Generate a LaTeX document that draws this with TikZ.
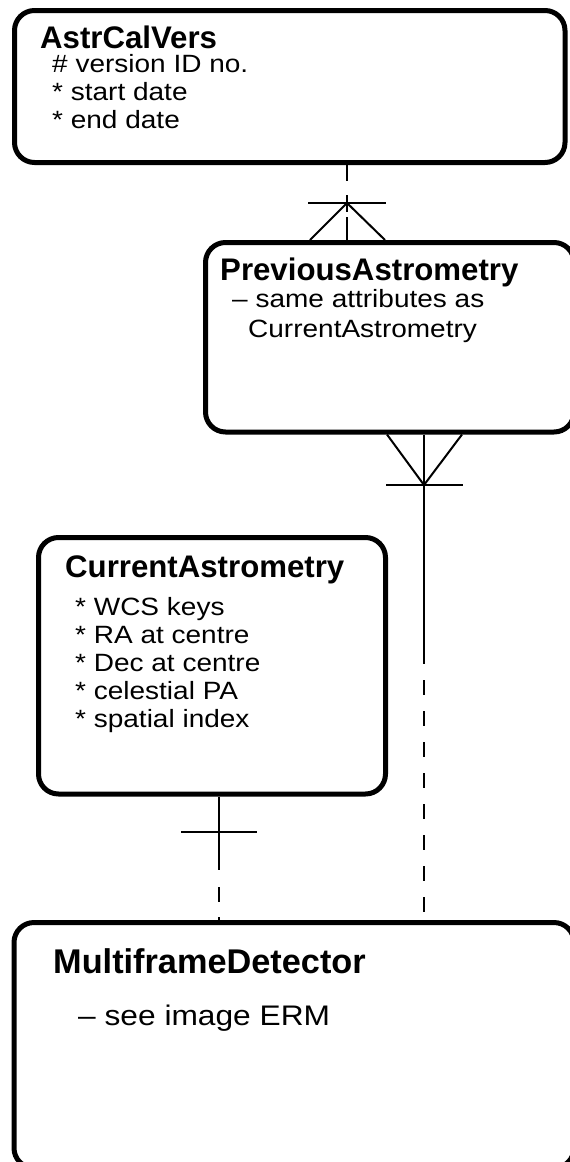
\documentclass[tikz,border=0pt]{standalone}
\usepackage{fontspec}
\setmainfont{Liberation Sans}
\newfontfamily\attrfont[FakeStretch=1.12]{Liberation Sans}
\begin{document}
\begin{tikzpicture}[x=1pt,y=-1pt,
  box/.style={draw, line width=5pt, rounded corners=20pt, inner sep=0pt},
  conn/.style={line width=2pt},
  ttl/.style={anchor=base west, inner sep=0pt, font=\fontsize{31.2}{36}\selectfont\bfseries},
  bigttl/.style={ttl, font=\fontsize{34.3}{40}\selectfont\bfseries},
  attr/.style={anchor=base west, inner sep=0pt, font=\attrfont\fontsize{25}{28}\selectfont},
  bigattr/.style={attr, font=\attrfont\fontsize{28.3}{34}\selectfont}]
\clip (0,0) rectangle (570,1162);
% boxes
\node[box, minimum width=550.5pt, minimum height=152pt] (astr) at (289.75,86.5) {};
\node[box, minimum width=368.5pt, minimum height=189.5pt] (prev) at (389.75,337.25) {};
\node[box, minimum width=347pt, minimum height=256.5pt] (curr) at (212,665.75) {};
\node[box, minimum width=560pt, minimum height=245.5pt] (mf) at (294,1045.25) {};
% texts
\node[ttl] (t1) at (40,48.5) {AstrCalVers};
\node[attr] (a11) at (52,72.5) {\# version ID no.};
\node[attr] (a12) at (52,100) {* start date};
\node[attr] (a13) at (52,128) {* end date};
\node[ttl] (t2) at (220,280.5) {PreviousAstrometry};
\node[attr] (a21) at (232,307) {– same attributes as};
\node[attr] (a22) at (248,337) {CurrentAstrometry};
\node[ttl] (t3) at (65,577) {CurrentAstrometry};
\node[attr] (a31) at (75,615) {* WCS keys};
\node[attr] (a32) at (75,643.5) {* RA at centre};
\node[attr] (a33) at (75,671.5) {* Dec at centre};
\node[attr] (a34) at (75,699.5) {* celestial PA};
\node[attr] (a35) at (75,727.5) {* spatial index};
\node[bigttl] (t4) at (53,973) {MultiframeDetector};
\node[bigattr] (a41) at (78,1025) {– see image ERM};
% x positions of connectors
\coordinate (x1) at (347,0);
\coordinate (x2) at (424,0);
\coordinate (x3) at (219,0);
% connector AstrCalVers -- PreviousAstrometry (one or many)
\draw[conn, dash pattern=on 16pt off 14pt on 17pt off 5pt on 40pt] (astr.south -| x1) -- (prev.north -| x1);
\coordinate (k1) at (347,203);
\draw[conn] (308,203) -- (386,203);
\draw[conn] (prev.north -| 310,0) -- (k1) -- (prev.north -| 385,0);
% connector PreviousAstrometry -- MultiframeDetector
\draw[conn, dash pattern=on 229.5pt off 16pt on 15pt off 16pt on 15pt off 16pt on 15pt off 16pt on 15pt off 16pt on 15pt off 16pt on 15pt off 16pt on 15pt off 16pt on 15pt off 16pt] (prev.south -| x2) -- (mf.north -| x2);
\coordinate (k2) at (424,485);
\draw[conn] (386,485) -- (463,485);
\draw[conn] (prev.south -| 387,0) -- (k2) -- (prev.south -| 462,0);
% connector CurrentAstrometry -- MultiframeDetector
\draw[conn, dash pattern=on 73.5pt off 17pt on 15pt off 15pt on 10pt] (curr.south -| x3) -- (mf.north -| x3);
\draw[conn] (181,832) -- (257,832);
\end{tikzpicture}
\end{document}
